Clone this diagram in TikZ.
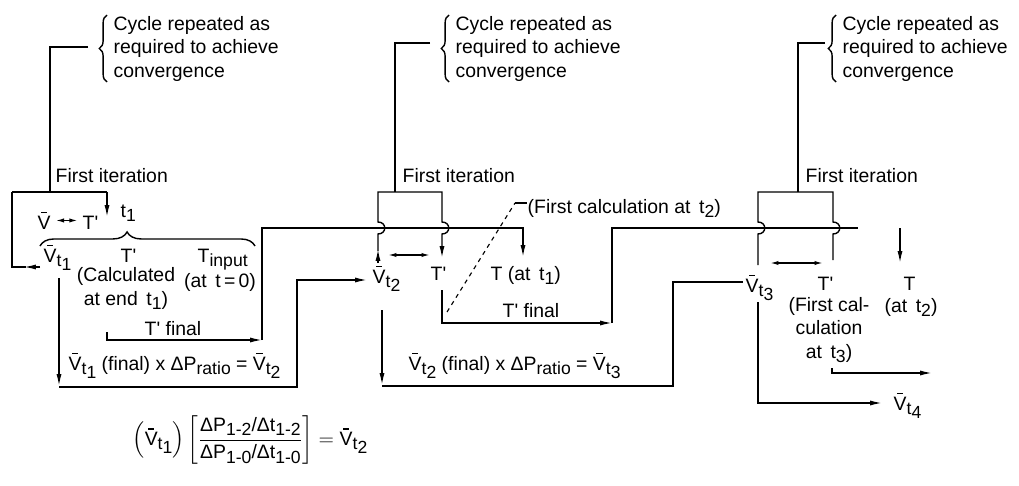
\documentclass[tikz,border=0pt]{standalone}
\usepackage{amsmath}
\usepackage{fontspec}
\setmainfont{Liberation Sans}
\usetikzlibrary{arrows.meta,decorations.pathreplacing}

\newcommand{\lo}[1]{\raisebox{-0.45ex}{\fontsize{12.5}{13}\selectfont #1}}
\newcommand{\Vb}{\makebox[0pt][l]{\hspace{0.17em}\rule[0.8em]{0.33em}{0.08em}}V}
\newcommand{\Vt}[1]{\Vb\lo{t\lo{#1}}}
\newcommand{\Tp}{T\textquotesingle}

\begin{document}
\begin{tikzpicture}[x=0.025cm,y=-0.025cm,line width=1pt,
  font=\fontsize{13.8}{16.7}\selectfont,
  lbl/.style={inner sep=0pt,anchor=base west},
  arr/.style={-{Latex[length=8.5pt,width=3.6pt]}},
  dbl/.style={{Latex[length=6pt,width=3pt]}-{Latex[length=6pt,width=3pt]}},
  brc/.style={decorate,decoration={brace,amplitude=#1}}]
  \useasboundingbox (0,0) rectangle (1019,486);

  \node[lbl,align=left] (cyc1) at (113,77) {Cycle repeated as\\required to achieve\\convergence};
  \node[lbl,align=left] (cyc2) at (455,77) {Cycle repeated as\\required to achieve\\convergence};
  \node[lbl,align=left] (cyc3) at (842,77) {Cycle repeated as\\required to achieve\\convergence};
  \draw[brc=5.5pt] (107,82) -- (107,15);
  \draw[brc=5.5pt] (449,82) -- (449,15);
  \draw[brc=5.5pt] (836,82) -- (836,15);

  \node[lbl] (fi1) at (55,182) {First iteration};
  \node[lbl] (fi2) at (402,182) {First iteration};
  \node[lbl] (fi3) at (805,182) {First iteration};

  % first time step
  \node[lbl] (vb0) at (37,229) {\Vb};
  \node[lbl] (tp0) at (82,229) {\Tp};
  \node[lbl] (t1) at (120,217) {t\lo{1}};
  \node[lbl] (v1) at (43,262) {\Vt{1}};
  \node[lbl] (tp1) at (120,262) {\Tp};
  \node[lbl,anchor=base,align=center] (calc1) at (126,305) {(Calculated\\at end\, t\lo{1})};
  \node[lbl] (tin) at (197,262) {T\lo{input}};
  \node[lbl,anchor=base] (at0) at (220,287) {(at\, t\,=\,0)};
  \node[lbl,anchor=base] (tf1) at (173,335) {\Tp{} final};
  \node[lbl] (eq1) at (68,370) {\Vt{1} (final) x ΔP\lo{ratio} = \Vt{2}};

  \coordinate (b1) at (88,47);
  \coordinate (k1) at (50,192);
  \draw (b1) -| (k1);
  \draw (12,192) -- (107,192);
  \draw[arr] (107,192) -- (107,217);
  \draw[arr] (40,267) -- (24,267);
  \draw (26,267) -| (12,192);
  \draw[dbl,shorten <=3pt,shorten >=3pt] (vb0.east) -- (vb0.east -| tp0.west);
  \draw[decorate,decoration={brace,amplitude=10pt,aspect=0.405}] (40,246) -- (255,246);
  \draw[arr] (107,332) -- (107,340) -- (262,340);
  \draw[arr] (262,340) -- (262,228) -- (523,228) -- (523,257);
  \draw[arr] (59,278) -- (59,386);
  \draw[arr] (59,387) -- (297,387) -- (297,280) -- (367,280);

  % second time step
  \node[lbl] (v2) at (372,283) {\Vt{2}};
  \node[lbl] (tp2) at (430,280) {\Tp};
  \node[lbl] (tat1) at (490,280) {T (at\, t\lo{1})};
  \node[lbl] (fc2) at (527,213) {(First calculation at\, t\lo{2})};
  \node[lbl,anchor=base] (tf2) at (531,317) {\Tp{} final};
  \node[lbl] (eq2) at (408,370) {\Vt{2} (final) x ΔP\lo{ratio} = \Vt{3}};

  \coordinate (b2) at (430,43);
  \coordinate (k2) at (395,192);
  \draw (b2) -| (k2);
  \draw[arr] (378,263) -- (378,249);
  \draw[arr] (378,251) -- (378,234) .. controls (387,234) and (387,222) .. (378,222) -- (378,192)
    -- (442,192) -- (442,222) .. controls (451,222) and (451,234) .. (442,234) -- (442,258);
  \draw[dbl] (388,255) -- (430,255);
  \draw[dashed,line width=0.8pt] (447,312) -- (515,203);
  \draw (515,203) -- (fc2.west |- 515,203);
  \draw[arr] (442,290) -- (442,323) -- (612,323);
  \draw (612,323) -- (612,228) -- (858,228);
  \draw[arr] (382,310) -- (382,385);
  \draw (382,386) -- (673,386) -- (673,282) -- (743,282);

  % third time step
  \node[lbl] (v3) at (745,292) {\Vt{3}};
  \node[lbl] (tp3) at (817,290) {\Tp};
  \node[lbl,anchor=base,align=center] (fc3) at (829,358) {(First cal-\\culation\\at\, t\lo{3})};
  \node[lbl] (t3) at (903,290) {T};
  \node[lbl,anchor=base] (at2) at (911,312) {(at\, t\lo{2})};
  \node[lbl] (v4) at (893,410) {\Vt{4}};

  \coordinate (b3) at (825,43);
  \coordinate (k3) at (798,192);
  \draw (b3) -| (k3);
  \draw (758,265) -- (758,234) .. controls (767,234) and (767,222) .. (758,222) -- (758,192)
    -- (833,192) -- (833,222) .. controls (842,222) and (842,234) .. (833,234) -- (833,260);
  \draw[dbl] (770,263) -- (823,263);
  \draw[arr] (900,228) -- (900,263);
  \draw[arr] (832,368) -- (832,373) -- (932,373);
  \draw[arr] (758,302) -- (758,403) -- (882,403);

  \node (frm) at (250,440) {$\left(\text{\Vt{1}}\right)\left[\dfrac{\text{ΔP\lo{1-2}/Δt\lo{1-2}}}{\text{ΔP\lo{1-0}/Δt\lo{1-0}}}\right] = \text{\Vt{2}}$};
\end{tikzpicture}
\end{document}
